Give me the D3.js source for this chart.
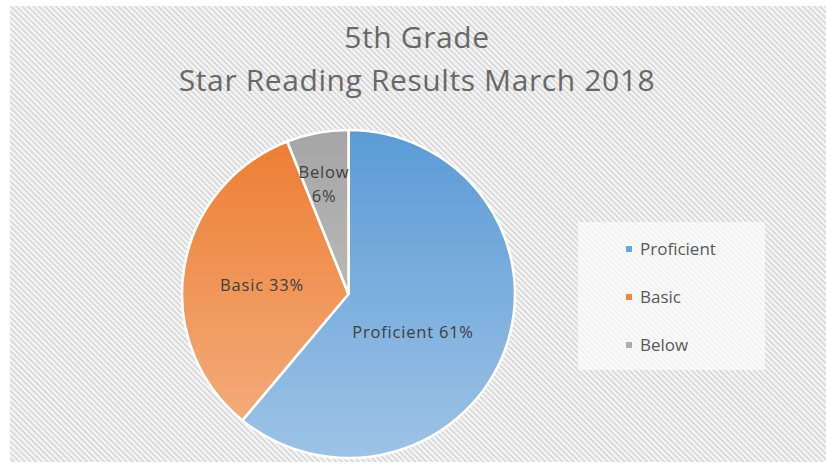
<!DOCTYPE html>
<html>
<head>
<meta charset="utf-8">
<script src="https://cdn.jsdelivr.net/npm/d3@7"></script>
<style>
  body { margin: 0; background: #fff; }
  svg { display: block; }
</style>
</head>
<body>
<svg id="chart" width="826" height="466"></svg>
<script>
var categories = ["Proficient", "Basic", "Below"];
var values = [61, 33, 6];
var labelLines = [["Proficient 61%"], ["Basic 33%"], ["Below", "6%"]];
var titleLines = ["5th Grade", "Star Reading Results March 2018"];

var colorsTop = ["#5b9bd5", "#ed7d31", "#a5a5a5"],
  colorsBottom = ["#9dc3e6", "#f4b183", "#cbcbcb"];

var svg = d3.select("#chart"),
  cx = 348.5,
  cy = 294,
  r = 164;

var defs = svg.append("defs");

var pat = defs
  .append("pattern")
  .attr("id", "hatch")
  .attr("width", 4)
  .attr("height", 4)
  .attr("patternUnits", "userSpaceOnUse")
  .attr("patternTransform", "rotate(45)");
pat.append("rect").attr("width", 4).attr("height", 4).attr("fill", "#f6f6f6");
pat.append("rect").attr("width", 4).attr("height", 1.6).attr("fill", "#d4d4d4");

categories.forEach(function (c, i) {
  var gr = defs
    .append("linearGradient")
    .attr("id", "grad" + i)
    .attr("gradientUnits", "userSpaceOnUse")
    .attr("x1", 0)
    .attr("y1", -r)
    .attr("x2", 0)
    .attr("y2", r);
  gr.append("stop").attr("offset", "0%").attr("stop-color", colorsTop[i]);
  gr.append("stop").attr("offset", "100%").attr("stop-color", colorsBottom[i]);
});

// background
svg
  .append("rect")
  .attr("x", 10)
  .attr("y", 6)
  .attr("width", 816)
  .attr("height", 456)
  .attr("fill", "url(#hatch)");

// title
svg
  .append("g")
  .selectAll("text")
  .data(titleLines)
  .enter()
  .append("text")
  .attr("x", 417)
  .attr("y", function (d, i) {
    return 48 + i * 43;
  })
  .attr("text-anchor", "middle")
  .style("font-family", "Open Sans")
  .style("font-size", "30px")
  .style("letter-spacing", "0.6px")
  .style("fill", "#686868")
  .text(function (d) {
    return d;
  });

// pie
var pie = d3.pie().sort(null).value(function (d) {
  return d;
});
var arc = d3.arc().innerRadius(0).outerRadius(r);
var arcs = pie(values);

var g = svg
  .append("g")
  .attr("transform", "translate(" + cx + "," + cy + ") scale(1.015,1)");

g.selectAll("path")
  .data(arcs)
  .enter()
  .append("path")
  .attr("d", arc)
  .attr("fill", function (d, i) {
    return "url(#grad" + i + ")";
  })
  .attr("stroke", "#fff")
  .attr("stroke-width", 2.5)
  .attr("stroke-linejoin", "round");

// data labels
var labelPos = [
  [413, 332],
  [262, 285],
  [324, 172],
];
var lg = svg.append("g");
labelLines.forEach(function (lines, i) {
  var t = lg
    .append("text")
    .attr("x", labelPos[i][0])
    .attr("y", labelPos[i][1])
    .attr("text-anchor", "middle")
    .style("font-family", "Open Sans")
    .style("font-size", "16.5px")
    .style("letter-spacing", "0.8px")
    .style("fill", "#404040");
  lines.forEach(function (l, j) {
    t.append("tspan")
      .attr("x", labelPos[i][0])
      .attr("dy", j === 0 ? 6 : 24)
      .text(l);
  });
});

// legend
var legend = svg.append("g");
legend
  .append("rect")
  .attr("x", 578)
  .attr("y", 222)
  .attr("width", 187)
  .attr("height", 148)
  .attr("fill", "#fbfbfb")
  .attr("opacity", 0.75);

var ly = d3.scalePoint().domain(categories).range([249, 345]);
var items = legend
  .selectAll("g.item")
  .data(categories)
  .enter()
  .append("g")
  .attr("class", "item")
  .attr("transform", function (d) {
    return "translate(626," + ly(d) + ")";
  });
items
  .append("rect")
  .attr("x", 0)
  .attr("y", -3)
  .attr("width", 6)
  .attr("height", 6)
  .attr("fill", function (d, i) {
    return colorsTop[i];
  })
  .attr("opacity", 0.9);
items
  .append("text")
  .attr("x", 14)
  .attr("y", 6)
  .style("font-family", "Open Sans")
  .style("font-size", "17px")
  .style("fill", "#595959")
  .text(function (d) {
    return d;
  });
</script>
</body>
</html>
